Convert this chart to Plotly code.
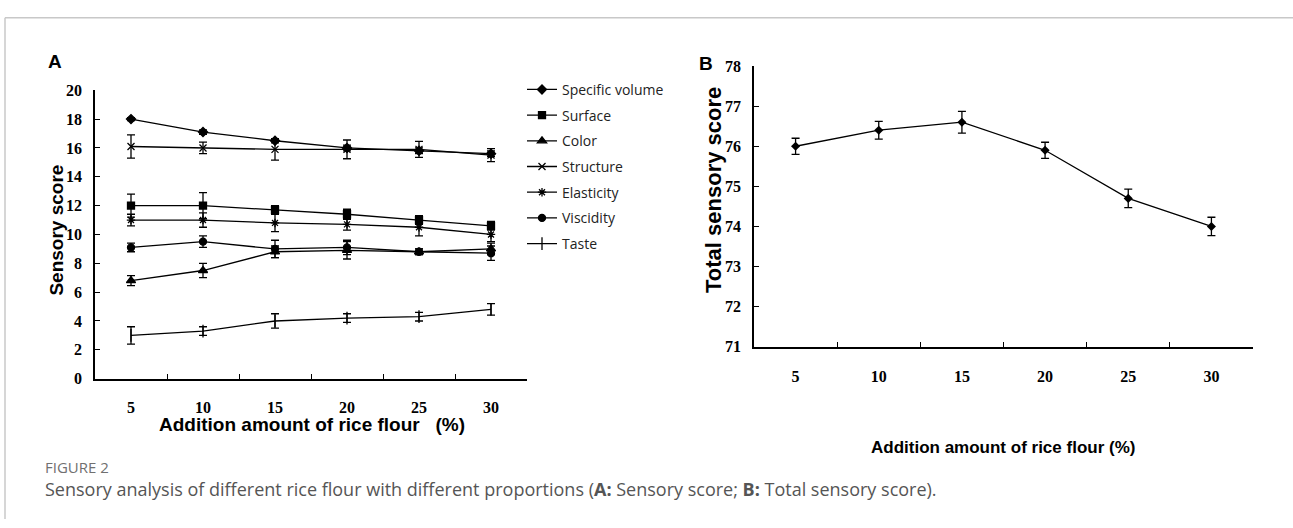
import plotly.graph_objects as go

W, H = 1293, 528

# ---------------- data ----------------
rice_flour = ["5", "10", "15", "20", "25", "30"]

specific_volume = [18.0, 17.1, 16.5, 16.0, 15.8, 15.6]
specific_volume_err = [0.1, 0.15, 0.15, 0.2, 0.2, 0.2]
surface = [12.0, 12.0, 11.7, 11.4, 11.0, 10.6]
surface_err = [0.8, 0.9, 0.3, 0.35, 0.3, 0.3]
color = [6.8, 7.5, 8.8, 8.9, 8.8, 9.0]
color_err = [0.35, 0.5, 0.4, 0.6, 0.2, 0.4]
structure = [16.1, 16.0, 15.9, 15.9, 15.9, 15.5]
structure_err = [0.8, 0.4, 0.75, 0.65, 0.55, 0.45]
elasticity = [11.0, 11.0, 10.8, 10.7, 10.5, 10.0]
elasticity_err = [0.4, 0.5, 0.6, 0.4, 0.6, 0.5]
viscidity = [9.1, 9.5, 9.0, 9.1, 8.8, 8.7]
viscidity_err = [0.3, 0.4, 0.6, 0.5, 0.2, 0.5]
taste = [3.0, 3.3, 4.0, 4.2, 4.3, 4.8]
taste_err = [0.6, 0.3, 0.5, 0.3, 0.3, 0.4]

total_score = [76.0, 76.4, 76.6, 75.9, 74.7, 74.0]
total_score_err = [0.2, 0.22, 0.27, 0.2, 0.23, 0.23]

series_names = ["Specific volume", "Surface", "Color", "Structure",
                "Elasticity", "Viscidity", "Taste"]
series_vals = [specific_volume, surface, color, structure, elasticity, viscidity, taste]
series_errs = [specific_volume_err, surface_err, color_err, structure_err,
               elasticity_err, viscidity_err, taste_err]
series_symbols = ["diamond", "square", "triangle-up", "x-thin-open",
                  "asterisk-open", "circle", "line-ns-open"]
series_sizes = [7, 7, 8, 7, 7, 7, 9]

y_ticks_a = [0, 2, 4, 6, 8, 10, 12, 14, 16, 18, 20]
y_ticks_b = [71, 72, 73, 74, 75, 76, 77, 78]


def px_x(p):
    return p / W


def px_y(p):
    return 1 - p / H


fig = go.Figure()

for name, vals, errs, sym, sz in zip(series_names, series_vals, series_errs,
                                     series_symbols, series_sizes):
    fig.add_trace(go.Scatter(
        x=rice_flour, y=vals, name=name, legendgroup=name,
        mode="lines+markers",
        line=dict(color="black", width=1.3),
        marker=dict(symbol=sym, size=sz, color="black",
                    line=dict(color="black", width=1.3)),
        error_y=dict(type="data", array=errs, visible=True,
                     color="black", thickness=1.3, width=4),
        xaxis="x", yaxis="y",
    ))

fig.add_trace(go.Scatter(
    x=rice_flour, y=total_score, name="Total sensory score", showlegend=False,
    mode="lines+markers",
    line=dict(color="black", width=1.3),
    marker=dict(symbol="diamond", size=7, color="black"),
    error_y=dict(type="data", array=total_score_err, visible=True,
                 color="black", thickness=1.3, width=4),
    xaxis="x2", yaxis="y2",
))

tickfont = dict(family="Liberation Serif", size=16, color="black", weight="bold")

axis_common = dict(showline=True, linecolor="black", linewidth=1.5,
                   ticks="inside", ticklen=5, tickwidth=1.3, tickcolor="black",
                   showgrid=False, zeroline=False, tickfont=tickfont)

fig.update_layout(
    width=W, height=H,
    margin=dict(l=0, r=0, t=0, b=0),
    paper_bgcolor="white", plot_bgcolor="white",
    showlegend=True,
    legend=dict(x=px_x(522), y=px_y(68), xanchor="left", yanchor="top",
                font=dict(family="Open Sans", size=14, color="#222"),
                tracegroupgap=4.5, itemwidth=30, traceorder="grouped",
                bgcolor="rgba(0,0,0,0)"),
    xaxis=dict(domain=[px_x(95), px_x(527)], anchor="y", type="category",
               range=[-0.5, 5.5], tickson="boundaries",
               ticklabelstandoff=13, **axis_common),
    yaxis=dict(domain=[px_y(383), px_y(85)], anchor="x", range=[0, 20],
               tickvals=y_ticks_a, ticklabelstandoff=8, **axis_common),
    xaxis2=dict(domain=[px_x(754), px_x(1253)], anchor="y2", type="category",
                range=[-0.5, 5.5], tickson="boundaries",
                ticklabelstandoff=14, **axis_common),
    yaxis2=dict(domain=[px_y(350), px_y(60)], anchor="x2", range=[71, 78],
                tickvals=y_ticks_b, ticklabelstandoff=8, **axis_common),
)


def bold_font(size):
    return dict(family="Liberation Sans", size=size, color="black", weight="bold")


annotations = [
    dict(text="Sensory score", x=px_x(57), y=px_y(230), textangle=-90,
         font=bold_font(19)),
    dict(text="Total sensory score", x=px_x(714), y=px_y(188), textangle=-90,
         font=bold_font(22)),
    dict(text="Addition amount of rice flour\u00a0\u00a0\u00a0(%)", x=px_x(312), y=px_y(430),
         font=bold_font(19)),
    dict(text="Addition amount of rice flour (%)", x=px_x(1003), y=px_y(454),
         font=bold_font(17)),
    dict(text="<b>A</b>", x=px_x(55), y=px_y(55),
         font=dict(family="Liberation Sans", size=19, color="black")),
    dict(text="<b>B</b>", x=px_x(706), y=px_y(57),
         font=dict(family="Liberation Sans", size=19, color="black")),
    dict(text="FIGURE 2", x=px_x(43), y=px_y(474), xanchor="left",
         font=dict(family="Open Sans", size=15, color="#707070")),
    dict(text="Sensory analysis of different rice flour with different proportions "
              "(<b>A:</b> Sensory score; <b>B:</b> Total sensory score).",
         x=px_x(43), y=px_y(497), xanchor="left",
         font=dict(family="Open Sans", size=18, color="#555555")),
]
for a in annotations:
    a.setdefault("xanchor", "center")
    a.update(xref="paper", yref="paper", showarrow=False, yanchor="middle")
fig.update_layout(annotations=annotations)

fig.update_layout(shapes=[
    dict(type="line", xref="paper", yref="paper", x0=px_x(5), x1=1,
         y0=px_y(10), y1=px_y(10), line=dict(color="#c8c8c8", width=1.5)),
    dict(type="line", xref="paper", yref="paper", x0=px_x(5), x1=px_x(5),
         y0=px_y(10), y1=0, line=dict(color="#c8c8c8", width=1.5)),
])

fig.write_html(
    "out.html",
    config={"displayModeBar": False},
    post_script="document.body.style.margin='0';"
                "document.body.style.overflow='hidden';",
)
